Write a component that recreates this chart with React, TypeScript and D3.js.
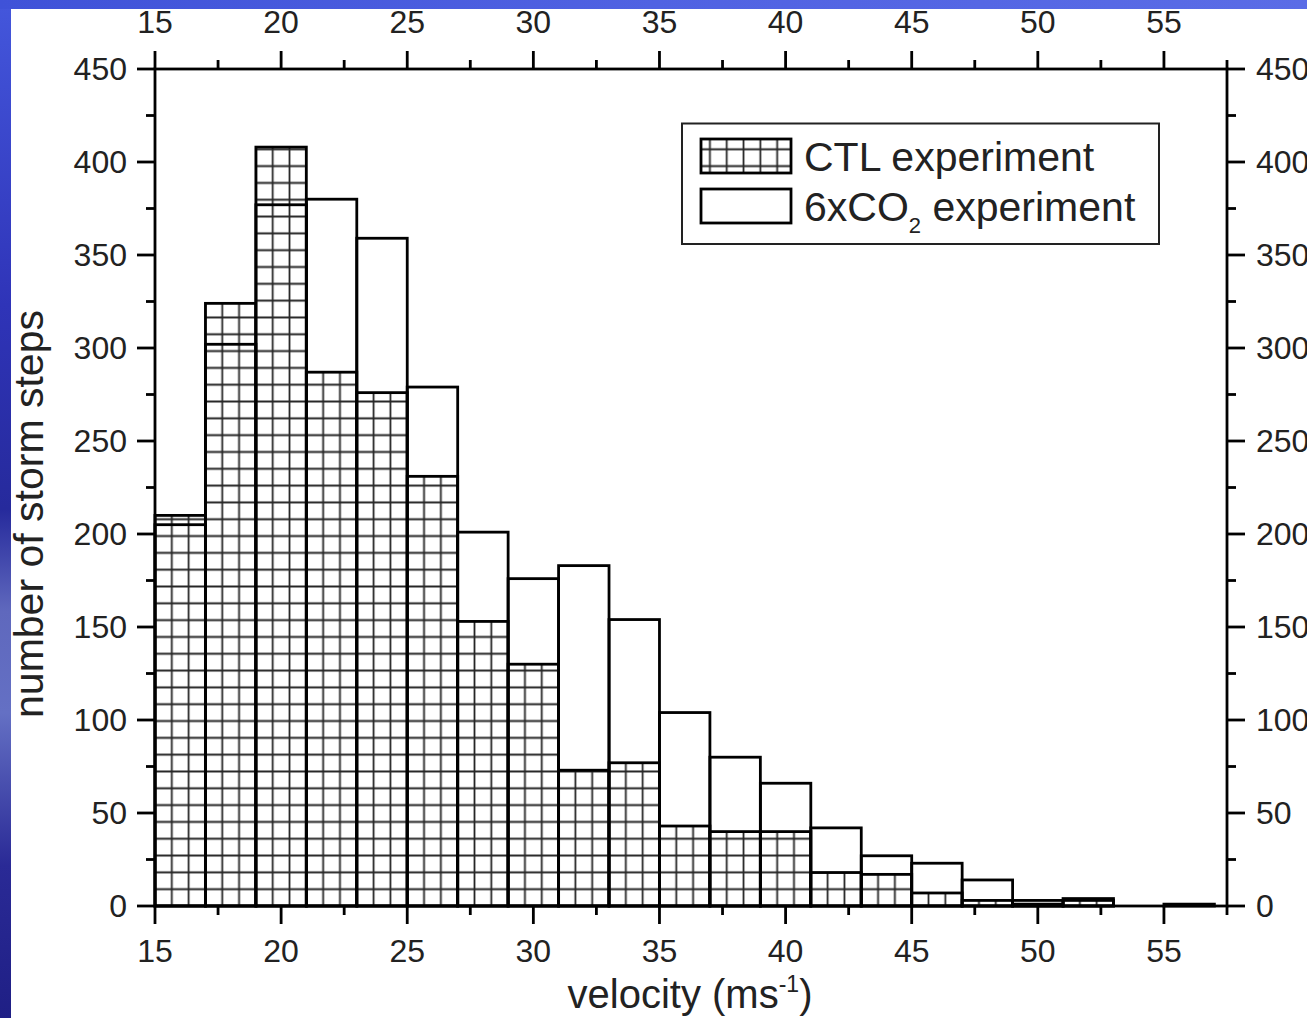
import React from "react";
import * as d3 from "d3";

const binStarts = [15, 17, 19, 21, 23, 25, 27, 29, 31, 33, 35, 37, 39, 41, 43, 45, 47, 49, 51, 53, 55];
const binWidth = 2;
const ctlCounts = [210, 324, 408, 287, 276, 231, 153, 130, 73, 77, 43, 40, 40, 18, 17, 7, 3, 1, 4, 0, 0];
const co2Counts = [205, 302, 377, 380, 359, 279, 201, 176, 183, 154, 104, 80, 66, 42, 27, 23, 14, 3, 3, 0, 1];
const xMajorTicks = [15, 20, 25, 30, 35, 40, 45, 50, 55];
const xMinorTicks = [17.5, 22.5, 27.5, 32.5, 37.5, 42.5, 47.5, 52.5, 57.5];
const yMajorTicks = [0, 50, 100, 150, 200, 250, 300, 350, 400, 450];
const yMinorTicks = [25, 75, 125, 175, 225, 275, 325, 375, 425];
const legendLabels = ["CTL experiment", "6xCO", "2", " experiment"];

const W = 1307;
const H = 1018;
const L = 155, R = 1227, T = 69, B = 906;
const FONT = "'Liberation Sans', Arial, Helvetica, sans-serif";

export default function App() {
  const x = d3.scaleLinear().domain([15, 57.5]).range([L, R]);
  const y = d3.scaleLinear().domain([0, 450]).range([B, T]);
  const cell = (x(17) - x(15)) / 3;
  const majorLen = 18;
  const minorLen = 9;
  const axisW = 2.8;

  return (
    <svg width={W} height={H} style={{ position: "absolute", left: 0, top: 0 }} fontFamily={FONT}>
      <defs>
        <linearGradient id="bgv" x1="0" y1="0" x2="0" y2="1">
          <stop offset="0" stopColor="#4457dc" />
          <stop offset="0.3" stopColor="#2f34b8" />
          <stop offset="0.5" stopColor="#262a9c" />
          <stop offset="0.6" stopColor="#5f68bd" />
          <stop offset="0.7" stopColor="#6470c4" />
          <stop offset="0.85" stopColor="#2a2a96" />
          <stop offset="1" stopColor="#1f1f85" />
        </linearGradient>
        <linearGradient id="bgh" x1="0" y1="0" x2="1" y2="0">
          <stop offset="0" stopColor="#3f52d8" />
          <stop offset="0.5" stopColor="#5062e2" />
          <stop offset="1" stopColor="#5a6ce6" />
        </linearGradient>
        <pattern id="grid" patternUnits="userSpaceOnUse" width={cell} height={cell} x={L - cell / 2} y={B - cell / 2}>
          <path d={`M${cell / 2},0V${cell}M0,${cell / 2}H${cell}`} stroke="#262626" strokeWidth={1.8} />
        </pattern>
      </defs>

      <rect x={0} y={0} width={W} height={H} fill="url(#bgv)" />
      <rect x={0} y={0} width={W} height={9} fill="url(#bgh)" />
      <rect x={11} y={9} width={W - 11} height={H - 9} fill="#ffffff" />

      {/* CTL hatched bars */}
      {binStarts.map((s, i) =>
        ctlCounts[i] > 0 ? (
          <g key={"ctl" + i}>
            <rect x={x(s)} y={y(ctlCounts[i])} width={x(s + binWidth) - x(s)} height={y(0) - y(ctlCounts[i])} fill="#ffffff" />
            <rect x={x(s)} y={y(ctlCounts[i])} width={x(s + binWidth) - x(s)} height={y(0) - y(ctlCounts[i])} fill="url(#grid)" stroke="#000" strokeWidth={2.8} />
          </g>
        ) : null
      )}
      {/* 6xCO2 outline bars */}
      {binStarts.map((s, i) =>
        co2Counts[i] > 0 ? (
          <rect key={"co2" + i} x={x(s)} y={y(co2Counts[i])} width={x(s + binWidth) - x(s)} height={y(0) - y(co2Counts[i])} fill="none" stroke="#000" strokeWidth={2.8} />
        ) : null
      )}

      {/* frame */}
      <rect x={L} y={T} width={R - L} height={B - T} fill="none" stroke="#000" strokeWidth={axisW} />

      {/* x ticks bottom & top */}
      {xMajorTicks.map((t) => (
        <g key={"xm" + t}>
          <line x1={x(t)} x2={x(t)} y1={B} y2={B + majorLen} stroke="#000" strokeWidth={axisW} />
          <line x1={x(t)} x2={x(t)} y1={T} y2={T - majorLen} stroke="#000" strokeWidth={axisW} />
          <text x={x(t)} y={962} fontSize={32} textAnchor="middle" fill="#222">{t}</text>
          <text x={x(t)} y={33} fontSize={32} textAnchor="middle" fill="#222">{t}</text>
        </g>
      ))}
      {xMinorTicks.map((t) => (
        <g key={"xn" + t}>
          <line x1={x(t)} x2={x(t)} y1={B} y2={B + minorLen} stroke="#000" strokeWidth={axisW} />
          <line x1={x(t)} x2={x(t)} y1={T} y2={T - minorLen} stroke="#000" strokeWidth={axisW} />
        </g>
      ))}

      {/* y ticks left & right */}
      {yMajorTicks.map((t) => (
        <g key={"ym" + t}>
          <line x1={L} x2={L - majorLen} y1={y(t)} y2={y(t)} stroke="#000" strokeWidth={axisW} />
          <line x1={R} x2={R + majorLen} y1={y(t)} y2={y(t)} stroke="#000" strokeWidth={axisW} />
          <text x={127} y={y(t)} dy="0.35em" fontSize={32} textAnchor="end" fill="#222">{t}</text>
          <text x={1256} y={y(t)} dy="0.35em" fontSize={32} textAnchor="start" fill="#222">{t}</text>
        </g>
      ))}
      {yMinorTicks.map((t) => (
        <g key={"yn" + t}>
          <line x1={L} x2={L - minorLen} y1={y(t)} y2={y(t)} stroke="#000" strokeWidth={axisW} />
          <line x1={R} x2={R + minorLen} y1={y(t)} y2={y(t)} stroke="#000" strokeWidth={axisW} />
        </g>
      ))}

      {/* axis titles */}
      <text x={690} y={1008} fontSize={40} textAnchor="middle" fill="#222">
        velocity (ms<tspan dy={-16} fontSize={23}>-1</tspan><tspan dy={16}>)</tspan>
      </text>
      <text transform={`translate(43,514) rotate(-90)`} fontSize={41} textAnchor="middle" fill="#222">
        number of storm steps
      </text>

      {/* legend */}
      <rect x={682} y={123.5} width={477} height={120.5} fill="#fff" stroke="#222" strokeWidth={2} />
      <rect x={701} y={139} width={90} height={34} fill="#fff" />
      <rect x={701} y={139} width={90} height={34} fill="url(#grid)" stroke="#000" strokeWidth={2.8} />
      <rect x={701} y={189} width={90} height={34} fill="none" stroke="#000" strokeWidth={2.8} />
      <text x={804} y={171} fontSize={41} fill="#222">{legendLabels[0]}</text>
      <text x={804} y={221} fontSize={41} fill="#222">
        {legendLabels[1]}<tspan dy={12} fontSize={22}>{legendLabels[2]}</tspan><tspan dy={-12}>{legendLabels[3]}</tspan>
      </text>
    </svg>
  );
}
